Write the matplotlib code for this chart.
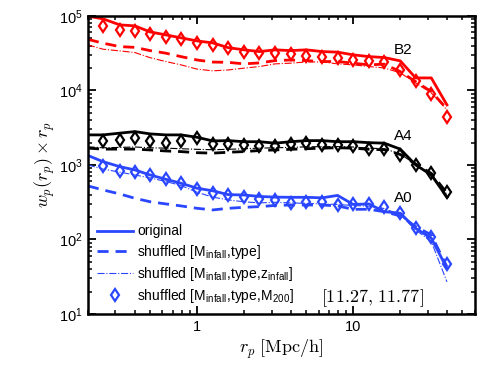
import numpy as np
import matplotlib
matplotlib.use("Agg")
from matplotlib import pyplot as plt
from matplotlib.ticker import FixedLocator, LogLocator, NullFormatter

plt.rcParams['font.family'] = ['Liberation Sans', 'DejaVu Sans']
plt.rcParams['mathtext.fontset'] = 'cm'

# projected separations (Mpc/h)
rp = [0.2, 0.25, 0.32, 0.4, 0.5, 0.63, 0.79, 1.0, 1.26, 1.58, 2.0, 2.51,
      3.16, 3.98, 5.01, 6.31, 7.94, 10.0, 12.6, 15.8, 20.0, 25.1, 31.6, 39.8]
rp_pts = rp[1:]

# B2 (red)
red_orig = [99000, 91200, 75700, 73400, 61000, 55600, 50700, 46100, 43400, 37500, 35000, 33200,
            35000, 34200, 35000, 33200, 32600, 30000, 28400, 27600, 24900, 14700, 14700, 6390]
red_shuf = [48400, 43000, 38700, 37800, 34200, 31600, 28400, 25600, 24000, 23800, 22700, 23400,
            25100, 25600, 25100, 24400, 24400, 23200, 22000, 22500, 17900, 13100, 9640, 5650]
red_zinf = [40800, 35700, 33900, 32200, 27500, 24400, 22000, 19300, 18300, 18800, 19900, 20900,
            22700, 23200, 24100, 24100, 22700, 22000, 20900, 20000, 17200, 12600, 9250, 5470]
red_m200 = [73400, 64900, 63500, 57300, 52300, 49100, 43400, 40200, 37200, 32900, 31900, 31900,
            30900, 29000, 28200, 27300, 25700, 24900, 24100, 18800, 13400, 8980, 4410]

# A4 (black)
blk_orig = [2530, 2530, 2670, 2800, 2610, 2530, 2530, 2350, 2100, 2120, 2050, 2050,
            1960, 2050, 2120, 2120, 2050, 2050, 1990, 1960, 1630, 1000, 735, 370]
blk_shuf = [1680, 1630, 1630, 1630, 1590, 1540, 1510, 1460, 1440, 1480, 1510, 1560,
            1590, 1620, 1650, 1680, 1700, 1680, 1620, 1600, 1380, 1030, 770, 420]
blk_zinf = [1750, 1700, 1720, 1740, 1700, 1680, 1650, 1620, 1600, 1620, 1650, 1680,
            1700, 1720, 1750, 1760, 1760, 1740, 1680, 1650, 1400, 1020, 760, 400]
blk_m200 = [2120, 2170, 2280, 2120, 1990, 2120, 2280, 1910, 1910, 1850, 1800, 1800,
            1910, 1960, 1850, 1850, 1800, 1630, 1630, 1360, 1000, 789, 438]

# A0 (blue)
blu_orig = [1340, 1107, 949, 857, 734, 643, 568, 487, 450, 400, 395, 378,
            370, 368, 368, 362, 390, 295, 300, 236, 225, 141, 104, 41]
blu_shuf = [523, 462, 408, 357, 321, 300, 282, 262, 249, 262, 270, 276,
            286, 290, 290, 290, 282, 254, 254, 236, 207, 149, 115, 43]
blu_zinf = [1000, 880, 800, 734, 670, 600, 530, 430, 370, 340, 320, 310,
            315, 310, 305, 300, 295, 285, 280, 260, 215, 134, 94, 27]
blu_m200 = [970, 838, 798, 734, 643, 578, 472, 421, 395, 372, 347, 336,
            312, 317, 317, 290, 300, 300, 276, 225, 141, 107, 46.5]

RED = '#ff0000'
BLK = '#000000'
BLU = '#2a46ff'

fig = plt.figure(figsize=(4.91, 3.69), dpi=100)
ax = fig.add_axes([0.179, 0.149, 0.788, 0.808])

sets = [(red_orig, red_shuf, red_zinf, red_m200, RED),
        (blk_orig, blk_shuf, blk_zinf, blk_m200, BLK),
        (blu_orig, blu_shuf, blu_zinf, blu_m200, BLU)]

handles = []
for orig, shuf, zinf, m200, c in sets:
    h1, = ax.plot(rp, orig, '-', color=c, lw=2.0)
    h2, = ax.plot(rp, shuf, '--', color=c, lw=2.0, dashes=(4, 2.5))
    h3, = ax.plot(rp, zinf, '-.', color=c, lw=0.8)
    h4, = ax.plot(rp_pts, m200, 'd', color=c, ms=6.5, mfc='none', mew=1.6, ls='none')
    handles = [h1, h2, h3, h4]

ax.set_xscale('log')
ax.set_yscale('log')
ax.set_xlim(0.2, 60)
ax.set_ylim(10, 1e5)

ax.xaxis.set_major_locator(FixedLocator([1, 10]))
ax.set_xticklabels(['1', '10'])
ax.xaxis.set_minor_locator(LogLocator(base=10, subs=np.arange(2, 10)))
ax.xaxis.set_minor_formatter(NullFormatter())
ax.yaxis.set_major_locator(FixedLocator([10, 100, 1000, 1e4, 1e5]))
ax.set_yticklabels([r'$\mathregular{10^{%d}}$' % k for k in range(1, 6)])
ax.yaxis.set_minor_locator(LogLocator(base=10, subs=np.arange(2, 10)))
ax.yaxis.set_minor_formatter(NullFormatter())

ax.tick_params(which='both', direction='in', top=True, right=True, labelsize=10.5)
ax.tick_params(which='major', length=6, width=1.3, pad=4)
ax.tick_params(which='minor', length=3, width=1.1)
for s in ax.spines.values():
    s.set_linewidth(1.8)

ax.set_xlabel(r'$r_p\ \mathrm{[Mpc/h]}$', fontsize=13, labelpad=3)
ax.set_ylabel(r'$w_p(r_p)\times r_p$', fontsize=13, labelpad=1)

ax.text(18.3, 34600, 'B2', fontsize=11, ha='left', va='center')
ax.text(18.3, 2460, 'A4', fontsize=11, ha='left', va='center')
ax.text(18.3, 360, 'A0', fontsize=11, ha='left', va='center')
ax.text(0.602, 0.054, r'$\mathrm{[11.27,\,11.77]}$', transform=ax.transAxes,
        fontsize=13, ha='left', va='center')

labels = ['original',
          r'shuffled [M$_{\mathregular{infall}}$,type]',
          r'shuffled [M$_{\mathregular{infall}}$,type,z$_{\mathregular{infall}}$]',
          r'shuffled [M$_{\mathregular{infall}}$,type,M$_{\mathregular{200}}$]']
ax.legend(handles, labels, loc='lower left', bbox_to_anchor=(0.0, 0.0),
          frameon=False, fontsize=10, handlelength=2.6, handletextpad=0.3,
          labelspacing=0.3, borderaxespad=0.25)

fig.savefig('out.png', dpi=100)
